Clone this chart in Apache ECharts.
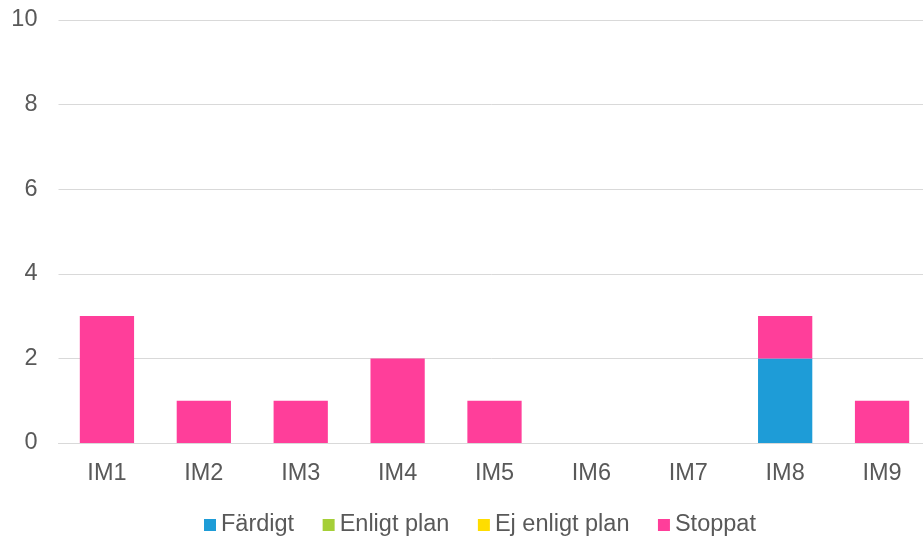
<!DOCTYPE html>
<html><head><meta charset="utf-8">
<script src="https://cdn.jsdelivr.net/npm/echarts@6/dist/echarts.min.js"></script>
<style>html,body{margin:0;padding:0;background:#fff}#c{width:923px;height:536px}</style>
</head><body><div id="c"></div>
<script>
const categories = ['IM1','IM2','IM3','IM4','IM5','IM6','IM7','IM8','IM9'];
const fardigt = [0,0,0,0,0,0,0,2,0];
const enligtPlan = [0,0,0,0,0,0,0,0,0];
const ejEnligtPlan = [0,0,0,0,0,0,0,0,0];
const stoppat = [3,1,1,2,1,0,0,1,1];
const yTicks = {min:0, max:10, interval:2};

const chart = echarts.init(document.getElementById('c'), null, {renderer:'canvas'});
const font = 'Liberation Sans, Arial, sans-serif';
function s(name, data, color){
  return {name, type:'bar', stack:'a', data, barWidth:'56%', itemStyle:{color}, emphasis:{disabled:true}};
}
chart.setOption({
  animation:false,
  grid:{left:58.5, width:872, top:20, bottom:93, containLabel:false, outerBoundsMode:'none'},
  legend:{top:508, left:199, itemWidth:12, itemHeight:12, itemGap:28.5, icon:'rect',
    textStyle:{fontFamily:font, fontSize:23.5, color:'#595959'},
    data:['Färdigt','Enligt plan','Ej enligt plan','Stoppat']},
  xAxis:{type:'category', data:categories,
    axisLine:{show:true, lineStyle:{color:'#d9d9d9', width:1}}, axisTick:{show:false},
    axisLabel:{fontFamily:font, fontSize:23.5, color:'#595959', margin:19}},
  yAxis:{type:'value', min:yTicks.min, max:yTicks.max, interval:yTicks.interval,
    axisLine:{show:false}, axisTick:{show:false},
    splitLine:{lineStyle:{color:'#d9d9d9', width:1}},
    axisLabel:{fontFamily:font, fontSize:23.5, color:'#595959', margin:21}},
  series:[
    s('Färdigt', fardigt, '#1E9CD7'),
    s('Enligt plan', enligtPlan, '#A5CF37'),
    s('Ej enligt plan', ejEnligtPlan, '#FFDD00'),
    s('Stoppat', stoppat, '#FF3E9A')
  ]
});
</script></body></html>
